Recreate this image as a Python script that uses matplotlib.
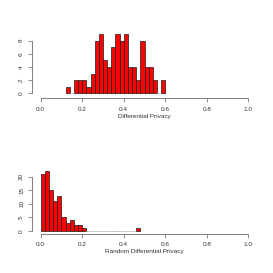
import numpy as np
import matplotlib
matplotlib.use('Agg')
import matplotlib.pyplot as plt

plt.rcParams['font.family'] = ['Liberation Sans', 'DejaVu Sans']

# histogram counts, bins of width 0.02
dp_start = 0.12
dp_counts = [1, 0, 2, 2, 2, 1, 3, 8, 9, 5, 4, 7, 9, 8, 9, 4, 4, 2, 8, 4, 4, 2, 0, 2]
rdp_start = 0.00
rdp_counts = [21, 22, 15, 11, 13, 5, 3, 4, 2, 2, 1,
              0, 0, 0, 0, 0, 0, 0, 0, 0, 0, 0, 0, 1]
bin_width = 0.02
x_ticks = [0.0, 0.2, 0.4, 0.6, 0.8, 1.0]
W = H = 273.0


def panel(rect_px, start, counts, ylim, yticks, xlabel, zero_px):
    left, top, right, bottom = rect_px
    ax = plt.gcf().add_axes([left / W, 1 - bottom / H, (right - left) / W, (bottom - top) / H])
    lefts = start + bin_width * np.arange(len(counts))
    edges = ['#1a1a1a' if c > 0 else '#b0b0b0' for c in counts]
    ax.bar(lefts, counts, width=bin_width, align='edge', color='#ff0000',
           edgecolor=edges, linewidth=0.5)
    ax.set_xlim(-0.04, 1.04)
    ax.set_ylim(*ylim)
    for s in ['top', 'right']:
        ax.spines[s].set_visible(False)
    for s in ['left', 'bottom']:
        ax.spines[s].set_color('#808080')
        ax.spines[s].set_linewidth(0.7)
    ax.spines['left'].set_bounds(yticks[0], yticks[-1])
    ax.spines['bottom'].set_bounds(0, 1)
    ax.spines['bottom'].set_position(('outward', zero_px))
    ax.set_xticks(x_ticks)
    ax.set_xticklabels(['%.1f' % t for t in x_ticks])
    ax.set_yticks(yticks)
    ax.set_yticklabels([str(t) for t in yticks], rotation=90, va='center')
    ax.tick_params(axis='both', colors='#808080', labelcolor='#333333',
                   labelsize=4.6, length=3, width=0.6, pad=3)
    ax.set_xlabel(xlabel, fontsize=4.6, color='#333333', labelpad=1.5)
    ax.patch.set_visible(False)
    return ax


fig = plt.figure(figsize=(2.73, 2.73), dpi=100)
fig.patch.set_facecolor('white')

panel((32.4, 31.7, 256.6, 95.7), dp_start, dp_counts, (-0.36, 9.36),
      [0, 2, 4, 6, 8], 'Differential Privacy', 2.0)
panel((32.4, 168.9, 256.6, 233.1), rdp_start, rdp_counts, (-0.88, 22.88),
      [0, 5, 10, 15, 20], 'Random Differential Privacy', 0.6)

fig.savefig('out.png', dpi=100)
